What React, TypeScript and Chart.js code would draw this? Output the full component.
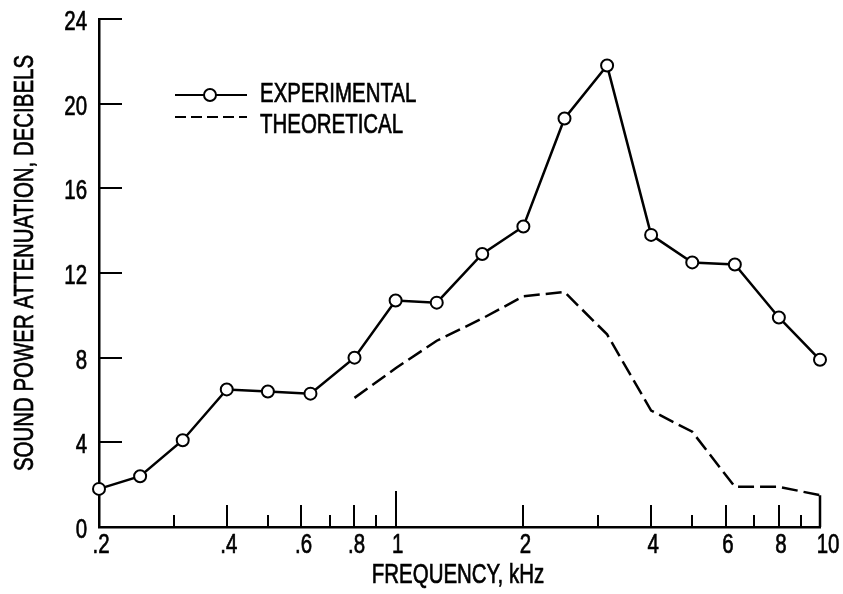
import React, { useEffect, useRef } from "react";
import { Chart, registerables } from "chart.js";

Chart.register(...registerables);

// ---- Data ----
const expFreq = [0.2, 0.25, 0.315, 0.4, 0.5, 0.63, 0.8, 1.0, 1.25, 1.6, 2.0, 2.5, 3.15, 4.0, 5.0, 6.3, 8.0, 10];
const expAtten = [1.8, 2.4, 4.1, 6.5, 6.4, 6.3, 8.0, 10.7, 10.6, 12.9, 14.2, 19.3, 21.8, 13.8, 12.5, 12.4, 9.9, 7.9];
const theoFreq = [0.8, 1.0, 1.25, 1.6, 2.0, 2.5, 3.15, 4.0, 5.0, 6.3, 8.0, 10, 10];
const theoAtten = [6.1, 7.5, 8.8, 9.85, 10.9, 11.1, 9.1, 5.5, 4.5, 1.9, 1.9, 1.5, 0];

const xTickValues = [0.2, 0.4, 0.6, 0.8, 1, 2, 4, 6, 8, 10];
const xTickLabels = [".2", ".4", ".6", ".8", "1", "2", "4", "6", "8", "10"];
const xMinorTicks = [0.3, 0.5, 0.7, 0.9, 3, 5, 7, 9];
const xMediumTicks = [0.4, 0.6, 0.8, 2, 4, 6, 8];
const xMajorTicks = [1];
const yTickValues = [0, 4, 8, 12, 16, 20, 24];
const yTickLabels = ["0", "4", "8", "12", "16", "20", "24"];

const seriesLabels = ["EXPERIMENTAL", "THEORETICAL"];
const xTitle = "FREQUENCY, kHz";
const yTitle = "SOUND POWER ATTENUATION, DECIBELS";

const FONT = "'Liberation Sans', Arial, sans-serif";
const FSIZE = 28;
const SX = 0.73;
const DASH = [16, 6];
const LEGEND_DASH = [11, 5];

function narrowText(ctx: any, text: string, x: number, y: number, align: string, rot = 0) {
  ctx.save();
  ctx.translate(x, y);
  if (rot) ctx.rotate(rot);
  ctx.scale(SX, 1);
  ctx.font = `${FSIZE}px ${FONT}`;
  ctx.textAlign = align;
  ctx.textBaseline = "alphabetic";
  ctx.fillStyle = "#000";
  ctx.strokeStyle = "#000";
  ctx.lineWidth = 0.7;
  ctx.fillText(text, 0, 0);
  ctx.strokeText(text, 0, 0);
  ctx.restore();
}

const tickPlugin = {
  id: "innerTicks",
  beforeDatasetsDraw(chart: any) {
    const { ctx, scales } = chart;
    const xs = scales.x;
    const ys = scales.y;
    ctx.save();
    ctx.strokeStyle = "#000";
    ctx.lineWidth = 2;
    const drawX = (vals: number[], len: number) => {
      vals.forEach((v) => {
        const px = Math.round(xs.getPixelForValue(v));
        ctx.beginPath();
        ctx.moveTo(px, ys.bottom);
        ctx.lineTo(px, ys.bottom - len);
        ctx.stroke();
      });
    };
    drawX(xMinorTicks, 12);
    drawX(xMediumTicks, 22);
    drawX(xMajorTicks, 36);
    yTickValues.forEach((v) => {
      if (v === 0) return;
      const py = Math.round(ys.getPixelForValue(v));
      ctx.beginPath();
      ctx.moveTo(xs.left, py);
      ctx.lineTo(xs.left + 23, py);
      ctx.stroke();
    });
    ctx.restore();

    // tick labels
    xTickValues.forEach((v, i) => {
      const last = i === xTickValues.length - 1;
      narrowText(ctx, xTickLabels[i], xs.getPixelForValue(v) + (last ? 8 : 2), 553, "center");
    });
    yTickValues.forEach((v, i) => {
      narrowText(ctx, yTickLabels[i], 87, ys.getPixelForValue(v) + 11, "right");
    });
    // axis titles
    narrowText(ctx, xTitle, 458, 583, "center");
    narrowText(ctx, yTitle, 33, 263, "center", -Math.PI / 2);
  },
};

const legendPlugin = {
  id: "customLegend",
  afterDatasetsDraw(chart: any) {
    const { ctx } = chart;
    ctx.save();
    ctx.strokeStyle = "#000";
    ctx.lineWidth = 2;
    const y1 = 95;
    ctx.beginPath();
    ctx.moveTo(175, y1);
    ctx.lineTo(247, y1);
    ctx.stroke();
    ctx.beginPath();
    ctx.arc(210, y1, 6, 0, Math.PI * 2);
    ctx.fillStyle = "#fff";
    ctx.fill();
    ctx.stroke();
    const y2 = 117;
    ctx.setLineDash(LEGEND_DASH);
    ctx.beginPath();
    ctx.moveTo(175, y2);
    ctx.lineTo(247, y2);
    ctx.stroke();
    ctx.setLineDash([]);
    ctx.restore();
    narrowText(ctx, seriesLabels[0], 260, 102, "left");
    narrowText(ctx, seriesLabels[1], 260, 133, "left");
  },
};

export default function App() {
  const ref = useRef<HTMLCanvasElement>(null);
  useEffect(() => {
    if (!ref.current) return;
    const chart = new Chart(ref.current, {
      type: "line",
      data: {
        datasets: [
          {
            label: seriesLabels[0],
            data: expFreq.map((f, i) => ({ x: f, y: expAtten[i] })),
            borderColor: "#000",
            borderWidth: 2.5,
            pointRadius: 6,
            pointBorderWidth: 2,
            pointBackgroundColor: "#fff",
            pointBorderColor: "#000",
            tension: 0,
            fill: false,
            clip: false,
          },
          {
            label: seriesLabels[1],
            data: theoFreq.map((f, i) => ({ x: f, y: theoAtten[i] })),
            borderColor: "#000",
            borderWidth: 2.5,
            pointRadius: 0,
            tension: 0,
            fill: false,
            clip: false,
            segment: {
              borderDash: (c: any) => (c.p0.parsed.x === c.p1.parsed.x ? [] : DASH),
            },
          },
        ],
      },
      options: {
        animation: false,
        responsive: true,
        maintainAspectRatio: false,
        layout: { padding: { top: 19, right: 23, left: 0, bottom: 0 } },
        plugins: { legend: { display: false }, tooltip: { enabled: false } },
        scales: {
          x: {
            type: "logarithmic",
            min: 0.2,
            max: 10,
            afterBuildTicks: (scale: any) => {
              scale.ticks = xTickValues.map((v) => ({ value: v }));
            },
            afterFit: (scale: any) => {
              scale.height = 67;
            },
            ticks: { display: false },
            grid: { display: true, drawOnChartArea: false, drawTicks: false },
            border: { display: true, color: "#000", width: 2.5 },
          },
          y: {
            type: "linear",
            min: 0,
            max: 24,
            afterFit: (scale: any) => {
              scale.width = 99;
            },
            ticks: { display: false, stepSize: 4 },
            grid: { display: true, drawOnChartArea: false, drawTicks: false },
            border: { display: true, color: "#000", width: 2.5 },
          },
        },
      },
      plugins: [tickPlugin, legendPlugin],
    });
    return () => chart.destroy();
  }, []);
  return (
    <div style={{ position: "fixed", left: 0, top: 0, width: 843, height: 594, background: "#fff" }}>
      <canvas ref={ref} />
    </div>
  );
}
